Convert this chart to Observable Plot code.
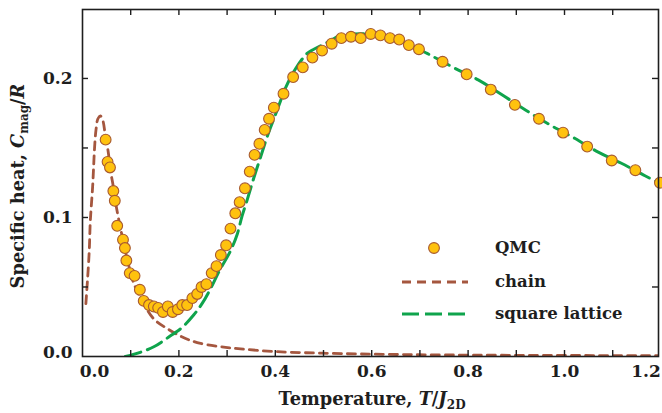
<!DOCTYPE html>
<html><head><meta charset="utf-8">
<script src="https://cdn.jsdelivr.net/npm/d3@7"></script>
<script src="https://cdn.jsdelivr.net/npm/@observablehq/plot@0.6"></script>
<style>
body{margin:0;background:#fff;}
#chart svg{display:block;}
</style>
</head><body><div id="chart"></div>
<script>
// QMC data
const qmcT = [0.048,0.052,0.057,0.064,0.067,0.072,0.084,0.088,0.091,0.098,0.108,0.119,0.127,0.138,0.148,0.157,0.167,0.177,0.187,0.198,0.207,0.217,0.228,0.238,0.247,0.257,0.268,0.278,0.287,0.298,0.307,0.317,0.326,0.337,0.347,0.357,0.367,0.378,0.387,0.397,0.417,0.437,0.457,0.477,0.497,0.517,0.537,0.557,0.577,0.598,0.618,0.638,0.657,0.677,0.698,0.747,0.797,0.847,0.897,0.947,0.997,1.047,1.098,1.147,1.198];
const qmcC = [0.156,0.140,0.136,0.119,0.112,0.094,0.084,0.078,0.069,0.060,0.058,0.048,0.040,0.037,0.036,0.035,0.032,0.036,0.032,0.034,0.037,0.037,0.042,0.045,0.050,0.052,0.060,0.065,0.073,0.080,0.092,0.103,0.111,0.121,0.133,0.145,0.153,0.163,0.171,0.179,0.189,0.201,0.208,0.215,0.220,0.225,0.229,0.230,0.229,0.232,0.231,0.229,0.228,0.224,0.221,0.212,0.203,0.192,0.181,0.171,0.161,0.151,0.141,0.134,0.125];
// chain model
const chainT = [0.007,0.010,0.014,0.016,0.018,0.021,0.023,0.025,0.028,0.032,0.037,0.042,0.047,0.053,0.059,0.064,0.069,0.079,0.091,0.106,0.127,0.148,0.176,0.207,0.238,0.286,0.328,0.396,0.496,0.66,0.867,1.2];
const chainC = [0.038,0.053,0.076,0.096,0.107,0.122,0.136,0.150,0.163,0.171,0.173,0.170,0.160,0.148,0.132,0.122,0.110,0.092,0.073,0.053,0.038,0.027,0.020,0.014,0.010,0.007,0.0055,0.0036,0.0024,0.0014,0.0009,0.0006];
// square lattice model
const squareT = [0.089,0.120,0.148,0.179,0.207,0.231,0.248,0.266,0.283,0.307,0.321,0.331,0.342,0.355,0.369,0.383,0.397,0.411,0.421,0.442,0.466,0.480,0.508,0.535,0.563,0.591,0.625,0.667,0.715,0.780,0.821,0.876,0.925,0.973,1.021,1.070,1.118,1.167,1.201];
const squareC = [0.000,0.003,0.007,0.014,0.021,0.030,0.038,0.049,0.061,0.076,0.088,0.101,0.113,0.128,0.143,0.158,0.171,0.184,0.193,0.207,0.218,0.221,0.226,0.231,0.232,0.232,0.231,0.226,0.218,0.206,0.199,0.187,0.176,0.166,0.157,0.147,0.139,0.130,0.124];
// ticks
const xTickLabels = [0.0,0.2,0.4,0.6,0.8,1.0,1.2];
const xTicks = [0.1,0.2,0.3,0.4,0.5,0.6,0.7,0.8,0.9,1.0,1.1];
const yTickLabels = [0.0,0.1,0.2];
const yTicks = [0.05,0.1,0.15,0.2];
const legendLabels = ["QMC","chain","square lattice"];

const qmc = qmcT.map((t,i)=>({T:t,C:qmcC[i]}));
const chain = chainT.map((t,i)=>({T:t,C:chainC[i]}));
const square = squareT.map((t,i)=>({T:t,C:squareC[i]}));

const W=662,H=413,mL=82,mR=4,mT=9,mB=57;
const fw=W-mL-mR, fh=H-mT-mB;
const FONT="DejaVu Serif";
const brown="#a5573f", green="#0fa44c", gold="#ffc20e", dotStroke="#a85a30", ink="#1e1e1e";

const midX = xTickLabels.filter(d=>d>0 && d<1.2);
const plot = Plot.plot({
  width:W, height:H, marginLeft:mL, marginRight:mR, marginTop:mT, marginBottom:mB,
  x:{domain:[0,1.195], axis:null},
  y:{domain:[0,0.2496], axis:null},
  style:{fontFamily:FONT, fontWeight:"bold", fontSize:"17px", background:"white", color:ink},
  marks:[
    Plot.line(chain,{x:"T",y:"C",stroke:brown,strokeWidth:2.8,strokeDasharray:"8,6",curve:"catmull-rom",clip:true}),
    Plot.line(square,{x:"T",y:"C",stroke:green,strokeWidth:3,strokeDasharray:"16,7",curve:"catmull-rom",clip:true}),
    Plot.dot(qmc,{x:"T",y:"C",r:5.4,fill:gold,stroke:dotStroke,strokeWidth:1.1}),
    Plot.frame({stroke:ink,strokeWidth:1.6}),
    Plot.tickX(xTicks,{x:d=>d,insetTop:fh-6,stroke:ink,strokeWidth:1.4}),
    Plot.tickX(xTicks,{x:d=>d,insetBottom:fh-6,stroke:ink,strokeWidth:1.4}),
    Plot.tickY(yTicks,{y:d=>d,insetRight:fw-6,stroke:ink,strokeWidth:1.4}),
    Plot.tickY(yTicks,{y:d=>d,insetLeft:fw-6,stroke:ink,strokeWidth:1.4}),
    Plot.text(midX,{x:d=>d,frameAnchor:"bottom",dy:20,fontSize:17,text:d=>d.toFixed(1),fill:ink}),
    Plot.text([xTickLabels[0]],{x:d=>d,frameAnchor:"bottom",dy:20,dx:12,fontSize:17,text:d=>d.toFixed(1),fill:ink}),
    Plot.text([xTickLabels[xTickLabels.length-1]],{x:d=>d,frameAnchor:"bottom",dy:20,dx:-15,fontSize:17,text:d=>d.toFixed(1),fill:ink}),
    Plot.text(yTickLabels.filter(d=>d>0),{y:d=>d,frameAnchor:"left",dx:-10,fontSize:17,textAnchor:"end",text:d=>d.toFixed(1),fill:ink}),
    Plot.text([yTickLabels[0]],{y:d=>d,frameAnchor:"left",dx:-10,dy:-4,fontSize:17,textAnchor:"end",text:d=>d.toFixed(1),fill:ink})
  ]
});
document.getElementById("chart").appendChild(plot);

const svg = d3.select(plot);
// X title
const xt = svg.append("text").attr("x",372).attr("y",405).attr("text-anchor","middle")
  .attr("font-family",FONT).attr("font-weight","bold").attr("font-size",17.8).attr("fill",ink);
xt.append("tspan").text("Temperature, ");
xt.append("tspan").attr("font-style","italic").text("T");
xt.append("tspan").text("/");
xt.append("tspan").attr("font-style","italic").text("J");
xt.append("tspan").attr("font-size",12).attr("dy",4).text("2D");
// Y title
const yt = svg.append("text").attr("transform","translate(24,186) rotate(-90)").attr("text-anchor","middle")
  .attr("font-family",FONT).attr("font-weight","bold").attr("font-size",17.8).attr("fill",ink);
yt.append("tspan").text("Specific heat, ");
yt.append("tspan").attr("font-style","italic").text("C");
yt.append("tspan").attr("font-size",12).attr("dy",4).text("mag");
yt.append("tspan").attr("dy",-4).text("/");
yt.append("tspan").attr("font-style","italic").text("R");
// Legend
const lg = svg.append("g").attr("font-family",FONT).attr("font-weight","bold").attr("font-size",16.5).attr("fill",ink).attr("text-anchor","start");
lg.append("circle").attr("cx",434).attr("cy",248).attr("r",5.4).attr("fill",gold).attr("stroke",dotStroke).attr("stroke-width",1.1);
lg.append("line").attr("x1",402).attr("x2",468).attr("y1",282).attr("y2",282).attr("stroke",brown).attr("stroke-width",2.8).attr("stroke-dasharray","9,6");
lg.append("line").attr("x1",402).attr("x2",468).attr("y1",314).attr("y2",314).attr("stroke",green).attr("stroke-width",3).attr("stroke-dasharray","17,6");
lg.append("text").attr("x",495).attr("y",253).text(legendLabels[0]);
lg.append("text").attr("x",495).attr("y",287).text(legendLabels[1]);
lg.append("text").attr("x",495).attr("y",319).text(legendLabels[2]);
</script>
</body></html>
